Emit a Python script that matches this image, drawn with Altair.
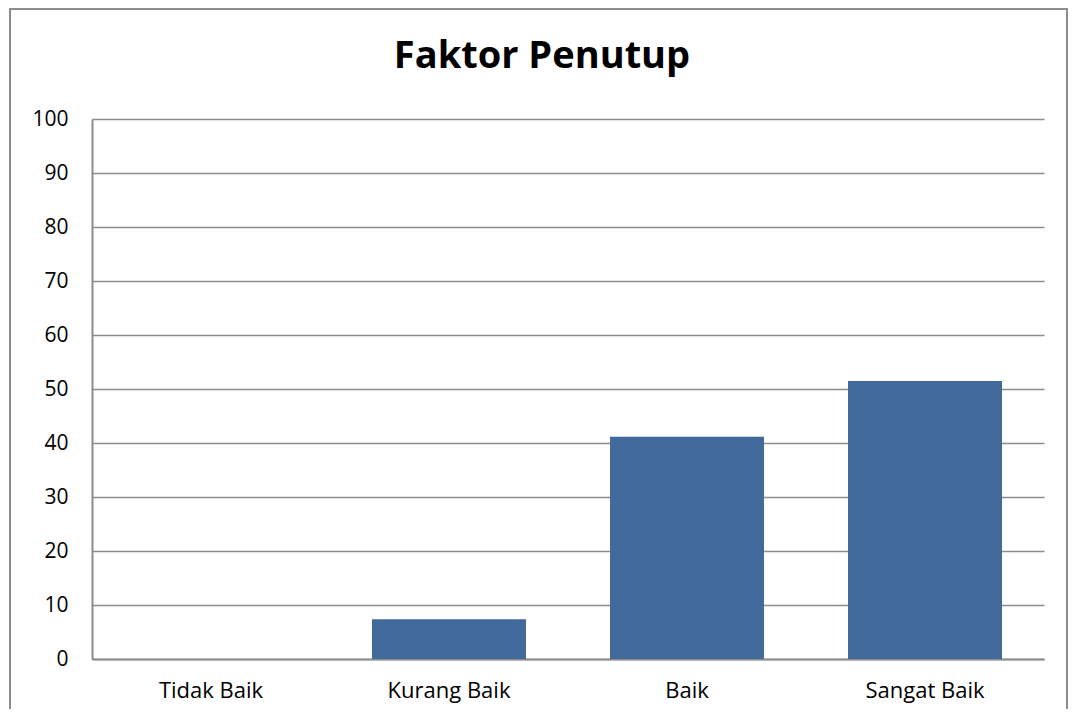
import altair as alt
import pandas as pd

categories = ["Tidak Baik", "Kurang Baik", "Baik", "Sangat Baik"]
values = [0, 7.35, 41.18, 51.47]
y_ticks = [0, 10, 20, 30, 40, 50, 60, 70, 80, 90, 100]
title_text = ["Faktor Penutup"]

df = pd.DataFrame({"kategori": categories, "nilai": values})
df_title = pd.DataFrame({"judul": title_text})

FONT = "Open Sans"

bars = alt.Chart(df).mark_bar(color="#41699b").encode(
    x=alt.X("kategori:N", sort=categories,
            scale=alt.Scale(paddingInner=0.353, paddingOuter=0.1765),
            axis=alt.Axis(title=None, labelAngle=0, labelFont=FONT, labelFontSize=22,
                          labelColor="#000000", labelPadding=21, ticks=False,
                          domainColor="#8c8c8c", domainWidth=2, grid=False)),
    y=alt.Y("nilai:Q", scale=alt.Scale(domain=[0, 100], nice=False),
            axis=alt.Axis(title=None, values=y_ticks, labelFont=FONT, labelFontSize=21,
                          labelColor="#000000", labelPadding=24, ticks=False,
                          domainColor="#8c8c8c", domainWidth=2,
                          gridColor="#8c8c8c", gridWidth=1.5)),
)

border = alt.Chart(df).mark_rect(fill=None, stroke="#8c8c8c", strokeWidth=2, clip=False).encode(
    x=alt.value(-82), x2=alt.value(975), y=alt.value(-110), y2=alt.value(620)
)

title = alt.Chart(df_title).mark_text(
    font=FONT, fontSize=38, fontWeight="bold", color="#000000",
    align="center", baseline="alphabetic"
).encode(text="judul:N", x=alt.value(450), y=alt.value(-51))

chart = alt.layer(border, bars, title).properties(
    width=952, height=540,
    autosize=alt.AutoSizeParams(type="none"),
    padding={"left": 84, "top": 111, "right": 25, "bottom": 50},
).configure_view(stroke=None)

chart.save("out.html", embed_options={"renderer": "svg", "actions": False})
